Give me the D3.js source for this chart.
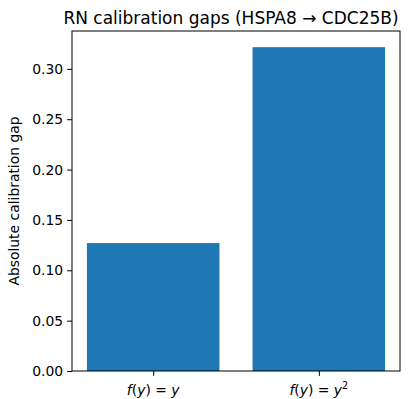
<!DOCTYPE html>
<html>
<head>
<meta charset="utf-8">
<script src="https://cdn.jsdelivr.net/npm/d3@7"></script>
<style>
  body { margin: 0; background: #fff; }
  text { font-family: "DejaVu Sans", sans-serif; fill: #000; }
</style>
</head>
<body>
<div id="chart"></div>
<script>
// chart data
var categories = ["y", "y2"];
var gaps = [0.127, 0.3215];
var yTicks = [0.00, 0.05, 0.10, 0.15, 0.20, 0.25, 0.30];

var width = 409, height = 399;
var margin = {left: 72, right: 9, top: 31, bottom: 28};

var svg = d3.select("#chart").append("svg")
  .attr("width", width)
  .attr("height", height);

var x = d3.scaleLinear()
  .domain([-0.49, 1.49])
  .range([margin.left, width - margin.right]);

var y = d3.scaleLinear()
  .domain([0, d3.max(gaps) * 1.05])
  .range([height - margin.bottom, margin.top]);

// bars
svg.append("g").selectAll("rect")
  .data(gaps)
  .enter().append("rect")
  .attr("x", function(d, i) { return x(i - 0.4); })
  .attr("width", function() { return x(0.4) - x(-0.4); })
  .attr("y", function(d) { return y(d); })
  .attr("height", function(d) { return y(0) - y(d); })
  .attr("fill", "#1f77b4");

// y axis
var yAxis = svg.append("g")
  .attr("transform", "translate(" + margin.left + ",0)")
  .call(d3.axisLeft(y).tickValues(yTicks).tickFormat(d3.format(".2f")).tickSizeOuter(0).tickSize(4.9).tickPadding(4));
yAxis.select(".domain").remove();
yAxis.selectAll("text").style("font-size", "13.9px");

// x axis
var xAxis = svg.append("g")
  .attr("transform", "translate(0," + (height - margin.bottom) + ")")
  .call(d3.axisBottom(x).tickValues([0, 1]).tickFormat("").tickSize(4.9));
xAxis.select(".domain").remove();

// math labels for the categories
var xl = svg.append("g");
categories.forEach(function(c, i) {
  var t = xl.append("text")
    .attr("x", x(i))
    .attr("y", height - margin.bottom + 24)
    .attr("text-anchor", "middle")
    .style("font-size", "13.9px");
  t.append("tspan").style("font-style", "italic").text("f");
  t.append("tspan").text("(");
  t.append("tspan").style("font-style", "italic").text("y");
  t.append("tspan").text(") = ");
  t.append("tspan").style("font-style", "italic").text("y");
  if (c == "y2") {
    t.append("tspan").attr("dy", -6).style("font-size", "9.7px").text("2");
  }
});

// frame
svg.append("rect")
  .attr("x", margin.left)
  .attr("y", margin.top)
  .attr("width", width - margin.left - margin.right)
  .attr("height", height - margin.top - margin.bottom)
  .attr("fill", "none")
  .attr("stroke", "#000")
  .attr("stroke-width", 1);

// title and label
svg.append("text")
  .attr("x", 231)
  .attr("y", 24)
  .attr("text-anchor", "middle")
  .style("font-size", "17px")
  .text("RN calibration gaps (HSPA8 → CDC25B)");

svg.append("text")
  .attr("transform", "translate(19," + ((margin.top + height - margin.bottom) / 2) + ") rotate(-90)")
  .attr("text-anchor", "middle")
  .style("font-size", "13.9px")
  .text("Absolute calibration gap");
</script>
</body>
</html>
